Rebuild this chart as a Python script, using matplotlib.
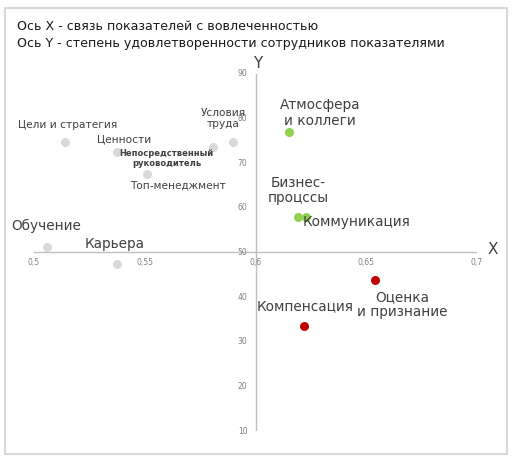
import matplotlib.pyplot as plt
from matplotlib.patches import Rectangle

# данные: x - связь с вовлеченностью, y - удовлетворенность
names = ['Цели и стратегия', 'Ценности', 'Непосредственный\nруководитель', 'Условия\nтруда',
         'Топ-менеджмент', 'Обучение', 'Карьера',
         'Атмосфера\nи коллеги', 'Бизнес-\nпроцссы', 'Коммуникация',
         'Оценка\nи признание', 'Компенсация']
x_vals = [0.514, 0.5375, 0.581, 0.590, 0.551, 0.506, 0.5375, 0.615, 0.619, 0.623, 0.654, 0.622]
y_vals = [74.7, 72.5, 73.6, 74.7, 67.5, 51.3, 47.5, 77.0, 57.9, 57.9, 43.9, 33.6]
groups = ['grey'] * 7 + ['green'] * 3 + ['red'] * 2

x_ticks = [0.5, 0.55, 0.6, 0.65, 0.7]
x_tick_labels = ['0,5', '0,55', '0,6', '0,65', '0,7']
y_ticks = [10, 20, 30, 40, 50, 60, 70, 80, 90]

colors = {'grey': '#d9d9d9', 'green': '#92d050', 'red': '#c00000'}
# смещения подписей в пикселях и размер шрифта
label_style = [(3, 17, 7.6), (7, 13, 7.6), (-47, -11, 6.0), (-10, 24, 7.6),
               (31, -11, 7.6), (-1, 21, 9.8), (-2, 20, 9.8),
               (31, 19, 9.8), (1, 27, 9.8), (50, -5, 9.8),
               (27, -25, 9.8), (1, 20, 9.8)]

W, H = 517, 473
fig = plt.figure(figsize=(W / 100, H / 100), dpi=100)
fig.patches.append(Rectangle((5 / W, 1 - 454 / H), 502 / W, 446 / H, transform=fig.transFigure,
                             fill=False, edgecolor='#d9d9d9', linewidth=1.5))

fig.text(17 / W, 1 - 26 / H, 'Ось X - связь показателей с вовлеченностью',
         fontsize=9.1, color='#1a1a1a', va='center')
fig.text(17 / W, 1 - 44 / H, 'Ось Y - степень удовлетворенности сотрудников показателями',
         fontsize=9.1, color='#1a1a1a', va='center')

ax = fig.add_axes([34 / W, 1 - 431 / H, 443 / W, 357 / H])
ax.set_xlim(0.5, 0.7)
ax.set_ylim(10, 90)
ax.axis('off')

ax.plot([0.5, 0.7], [50, 50], color='#bfbfbf', lw=1, zorder=1)
ax.plot([0.6, 0.6], [10, 90], color='#bfbfbf', lw=1, zorder=1)

for xt, lab in zip(x_ticks, x_tick_labels):
    ax.annotate(lab, (xt, 50), xytext=(0, -10), textcoords='offset pixels',
                ha='center', va='center', fontsize=5.5, color='#808080')
for yt in y_ticks:
    ax.annotate(str(yt), (0.6, yt), xytext=(-8, 0), textcoords='offset pixels',
                ha='right', va='center', fontsize=5.5, color='#808080')

ax.annotate('Y', (0.6, 90), xytext=(2, 10), textcoords='offset pixels',
            ha='center', va='center', fontsize=11, color='#404040')
ax.annotate('X', (0.7, 50), xytext=(16, 3), textcoords='offset pixels',
            ha='center', va='center', fontsize=11, color='#404040')

for name, x, y, g, (dx, dy, fs) in zip(names, x_vals, y_vals, groups, label_style):
    ax.scatter(x, y, s=42, color=colors[g], zorder=3, linewidths=0)
    ax.annotate(name, (x, y), xytext=(dx, dy), textcoords='offset pixels',
                ha='center', va='center', fontsize=fs, color='#404040',
                linespacing=1.1, fontweight='bold' if fs < 7 else 'normal')

fig.savefig('out.png', dpi=100)
